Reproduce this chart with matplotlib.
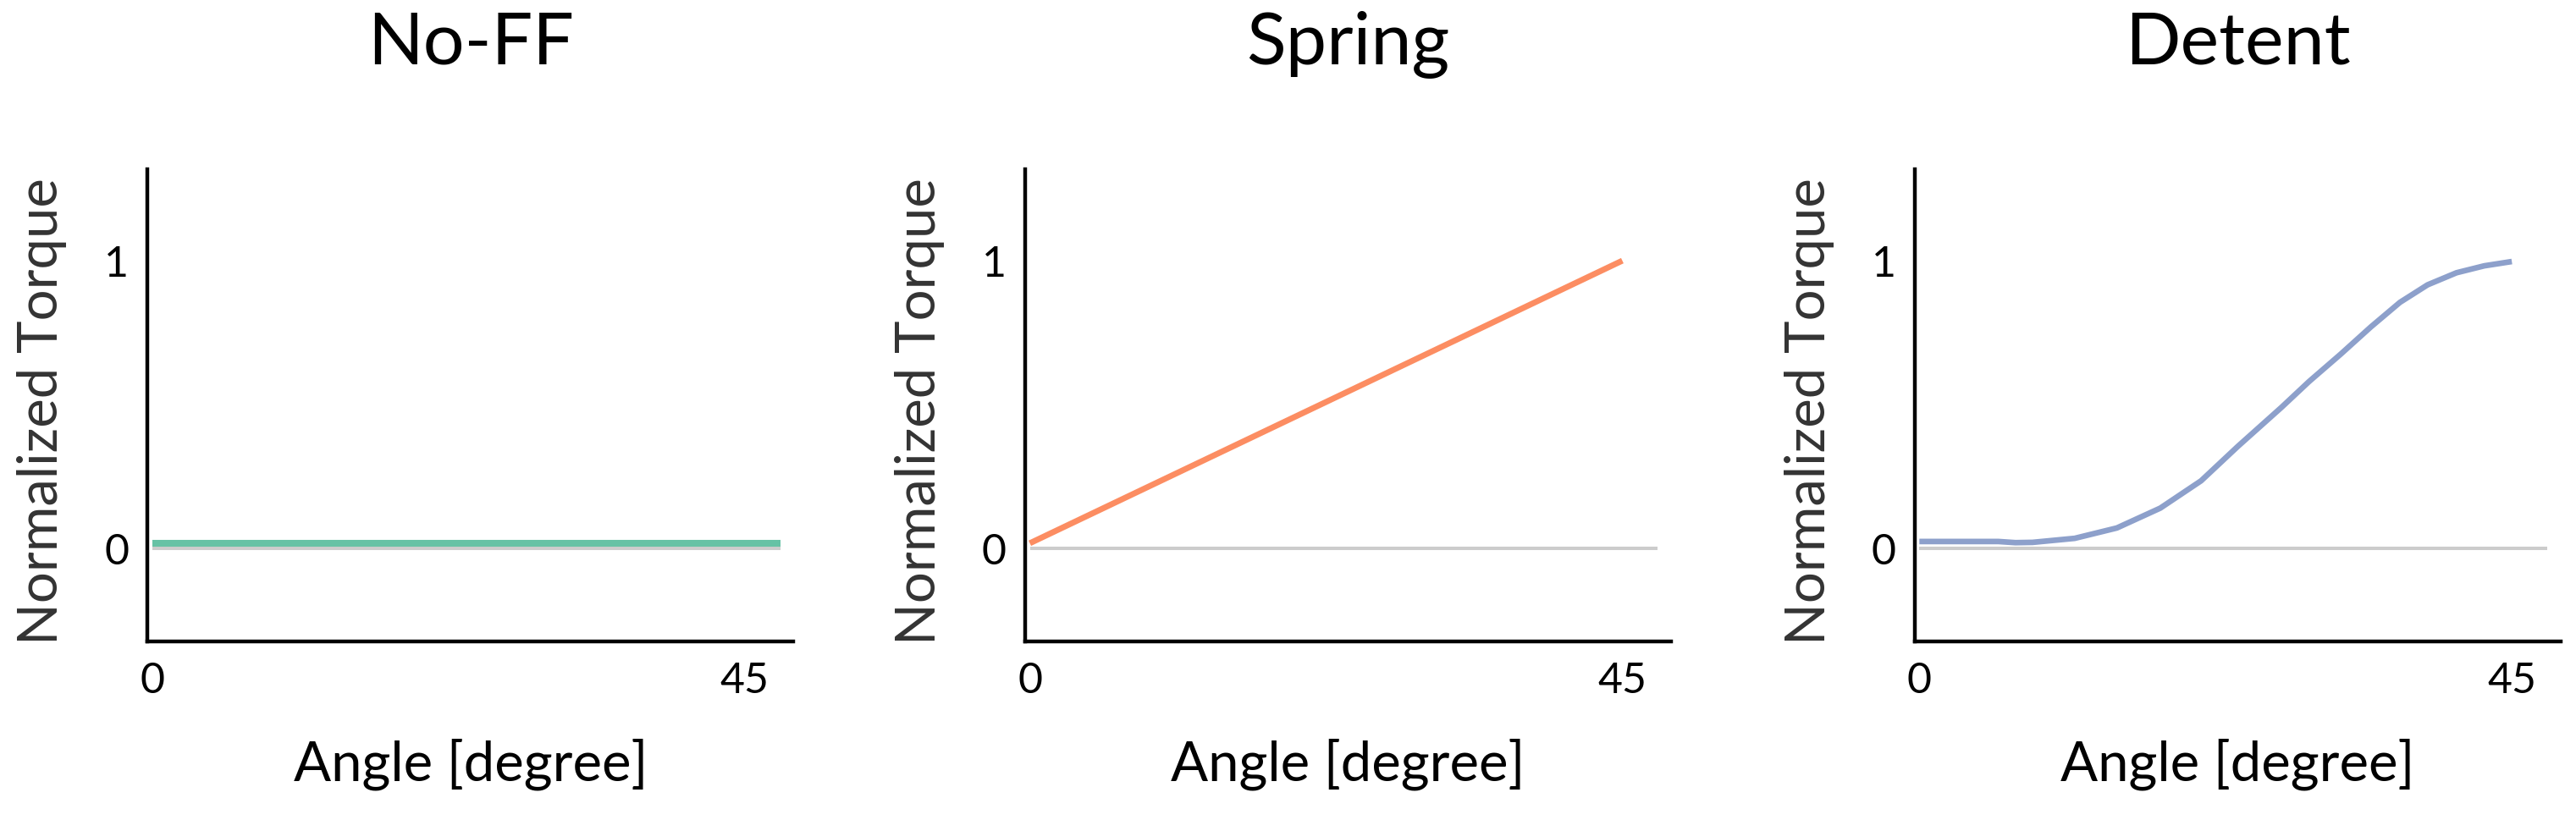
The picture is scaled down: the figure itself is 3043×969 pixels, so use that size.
import matplotlib
matplotlib.use('Agg')
import matplotlib.pyplot as plt

plt.rcParams['font.family'] = ['Lato', 'DejaVu Sans']

# titles and colours per panel
titles = ['No-FF', 'Spring', 'Detent']
colors = ['#66c2a5', '#fc8d62', '#8da0cb']

# No-FF: flat line
noff_x = [0, 47.7]
noff_y = [0.018, 0.018]

# Spring: linear
spring_x = [0, 45]
spring_y = [0.018, 1.0]

# Detent
detent_x = [0, 3, 6.0, 7.3, 8.6, 11.8, 15.0, 18.3, 21.4, 24.2, 27.5, 29.6, 32.0,
            34.3, 36.5, 38.6, 40.8, 42.9, 45]
detent_y = [0.024, 0.024, 0.024, 0.020, 0.021, 0.035, 0.071, 0.14, 0.235, 0.355, 0.49, 0.58, 0.675,
            0.77, 0.855, 0.916, 0.958, 0.982, 0.997]

# zero reference line
zero_x = [0, 47.7]
zero_y = [0, 0]

xticks = [0, 45]
yticks = [0, 1]

series = [(noff_x, noff_y, 5.8), (spring_x, spring_y, 5.0), (detent_x, detent_y, 4.8)]
lefts = [0.0573, 0.398, 0.7433]

fig = plt.figure(figsize=(30.43, 9.69), dpi=100)
for i in range(3):
    ax = fig.add_axes([lefts[i], 0.2177, 0.2507, 0.576])
    ax.plot(zero_x, zero_y, color='#cccccc', lw=2.9, solid_capstyle='butt', zorder=1)
    xs, ys, lw = series[i]
    ax.plot(xs, ys, color=colors[i], lw=lw, solid_capstyle='butt',
            solid_joinstyle='round', zorder=2)
    ax.set_xlim(-0.35, 48.7)
    ax.set_ylim(-0.3235, 1.318)
    ax.set_xticks(xticks)
    ax.set_yticks(yticks)
    ax.tick_params(length=0, labelsize=36)
    ax.tick_params(axis='x', pad=17)
    ax.tick_params(axis='y', pad=16)
    for s in ['top', 'right']:
        ax.spines[s].set_visible(False)
    for s in ['left', 'bottom']:
        ax.spines[s].set_linewidth(3.2)
    ax.set_xlabel('Angle [degree]', fontsize=47)
    ax.xaxis.set_label_coords(0.5, -0.205)
    ax.set_ylabel('Normalized Torque', fontsize=47, color='#333333')
    ax.yaxis.set_label_coords(-0.125, 0.487)
    ax.text(0.5, 1.223, titles[i], transform=ax.transAxes, ha='center', va='baseline', fontsize=62)

fig.savefig('out.png', dpi=100, facecolor='white')
